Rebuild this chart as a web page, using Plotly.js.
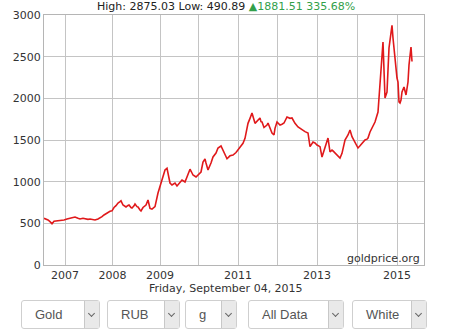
<!DOCTYPE html>
<html>
<head>
<meta charset="utf-8">
<script src="https://cdn.plot.ly/plotly-3.0.1.min.js"></script>
<style>
  html, body { margin: 0; padding: 0; background: #fff; }
  #wrap { position: relative; width: 452px; height: 335px; overflow: hidden; }
  #chart { position: absolute; left: 0; top: 0; width: 452px; height: 335px; }
  .dd { position: absolute; top: 300px; height: 29px; border: 1px solid #cfcfcf; border-radius: 3px;
        background: #fff; box-sizing: border-box; font-family: "Liberation Sans", Arial, sans-serif;
        font-size: 13px; color: #555; line-height: 27px; padding-left: 13px; }
  .dd .arr { position: absolute; right: 0; top: 0; bottom: 0; width: 14px; background: #e9e9e9;
             border-left: 1px solid #c8c8c8; }
  .dd .arr i { position: absolute; left: 4px; top: 10px; width: 4px; height: 4px;
               border-right: 1.5px solid #666; border-bottom: 1.5px solid #666; transform: rotate(45deg); }
</style>
</head>
<body>
<div id="wrap">
  <div id="chart"></div>
</div>
<script>
// Series index (one sample per rendered step) and RUB price per gram
const sampleIdx = [0,2,4,6,8,10,12,14,16,18,20,23,26,29,31,34,36,39,41,44,46,49,51,54,56,58,60,62,64,66,68,70,72,74,76,77,79,81,82,84,85,87,88,90,91,93,94,96,97,99,102,104,106,108,111,114,118,121,123,125,126,128,131,133,136,138,141,143,146,148,149,152,154,157,159,161,162,164,167,169,172,174,177,179,180,183,186,189,192,194,196,199,201,204,206,208,211,214,216,217,218,220,223,224,226,228,230,231,233,235,236,238,240,243,246,248,249,251,254,256,258,261,264,266,269,271,273,276,278,281,283,284,286,288,289,291,293,296,298,299,301,304,306,308,310,312,314,316,318,319,321,323,324,326,329,331,334,336,339,341,343,345,347,348,349,350,351,352,353,354,355,356,357,358,359,360,362,364,365,367,368,370,372,373,375,376,378,379,380];
const priceRUB = [560,552,540,520,495,525,528,535,540,535,540,552,564,572,576,560,552,560,552,548,552,545,540,552,564,580,600,615,636,645,650,690,712,744,760,770,720,705,696,715,720,690,684,710,732,700,696,660,648,690,720,780,680,670,700,864,1020,1140,1160,1044,984,960,984,948,996,1020,996,1056,1150,1104,1080,1056,1080,1116,1236,1272,1224,1140,1224,1296,1344,1404,1428,1380,1344,1275,1310,1320,1350,1380,1420,1460,1520,1700,1760,1824,1700,1740,1764,1720,1716,1650,1680,1704,1640,1584,1560,1640,1716,1690,1680,1690,1704,1776,1760,1764,1740,1700,1656,1640,1620,1600,1584,1420,1476,1464,1440,1420,1296,1404,1480,1524,1356,1380,1370,1344,1310,1284,1340,1404,1500,1560,1620,1540,1500,1460,1404,1430,1464,1480,1500,1510,1524,1596,1660,1716,1836,2196,2676,2004,2076,2604,2760,2875,2724,2600,2484,2316,2244,2196,1956,1944,1980,2076,2124,2136,2040,2196,2400,2616,2442];
// sample index at which each year starts
const yearStartIdx = [21,68.5,116,154.5,194,233.5,273,313,353];
const yearLabels = ['2007','2008','2009','','2011','','2013','','2015'];
const yTicks = [0,500,1000,1500,2000,2500,3000];
const header = {high: '2875.03', low: '490.89', change: '1881.51', pct: '335.68%'};
const dateText = 'Friday, September 04, 2015';
const selectors = ['Gold','RUB','g','All Data','White'];

const L = 44, R = 28, T = 15, B = 70, W = 452, H = 335;
const pw = W - L - R, ph = H - T - B;
const px2x = p => (p - L) / pw;
const py2y = p => (H - B - p) / ph;

const trace = {
  x: sampleIdx, y: priceRUB, type: 'scatter', mode: 'lines',
  line: {color: '#e0191b', width: 1.6}, hoverinfo: 'skip'
};
const font = {family: '"DejaVu Sans", Verdana, sans-serif', size: 11, color: '#333'};
const layout = {
  width: W, height: H,
  margin: {l: L, r: R, t: T, b: B, pad: 0},
  paper_bgcolor: '#fff', plot_bgcolor: '#fff',
  showlegend: false, font: font,
  xaxis: {
    range: [0, 380], tickmode: 'array', tickvals: yearStartIdx, ticktext: yearLabels,
    showgrid: true, gridcolor: '#c4c4c4', gridwidth: 1, zeroline: false,
    showline: true, linecolor: '#b5b5b5', linewidth: 1, mirror: true,
    ticks: '', tickfont: font, fixedrange: true
  },
  yaxis: {
    range: [0, 3000], tickmode: 'array', tickvals: yTicks,
    showgrid: true, gridcolor: '#c4c4c4', gridwidth: 1, zeroline: false,
    showline: true, linecolor: '#b5b5b5', linewidth: 1, mirror: true,
    ticks: '', tickfont: font, ticklabelstandoff: 0, fixedrange: true
  },
  annotations: [
    {xref: 'paper', yref: 'paper', x: px2x(226), y: py2y(7), xanchor: 'center', yanchor: 'middle', showarrow: false,
     text: 'High: ' + header.high + ' Low: ' + header.low + ' <span style="color:#33a04a">▲' + header.change + ' ' + header.pct + '</span>',
     font: {family: font.family, size: 11, color: '#222'}},
    {xref: 'paper', yref: 'paper', x: px2x(226), y: py2y(288), xanchor: 'center', yanchor: 'middle', showarrow: false,
     text: dateText, font: {family: font.family, size: 11, color: '#333'}},
    {xref: 'paper', yref: 'paper', x: px2x(422), y: py2y(258), xanchor: 'right', yanchor: 'middle', showarrow: false,
     text: 'goldprice.org', font: {family: font.family, size: 11, color: '#333'}}
  ]
};
Plotly.newPlot('chart', [trace], layout, {displayModeBar: false, staticPlot: true});

// selector boxes under the chart
const boxPos = [[21,100],[107,180],[185,237],[248,344],[352,427]];
const wrap = document.getElementById('wrap');
selectors.forEach((s, i) => {
  const d = document.createElement('div');
  d.className = 'dd';
  d.style.left = boxPos[i][0] + 'px';
  d.style.width = (boxPos[i][1] - boxPos[i][0]) + 'px';
  d.textContent = s;
  const a = document.createElement('div'); a.className = 'arr';
  a.appendChild(document.createElement('i'));
  d.appendChild(a);
  wrap.appendChild(d);
});
</script>
</body>
</html>
